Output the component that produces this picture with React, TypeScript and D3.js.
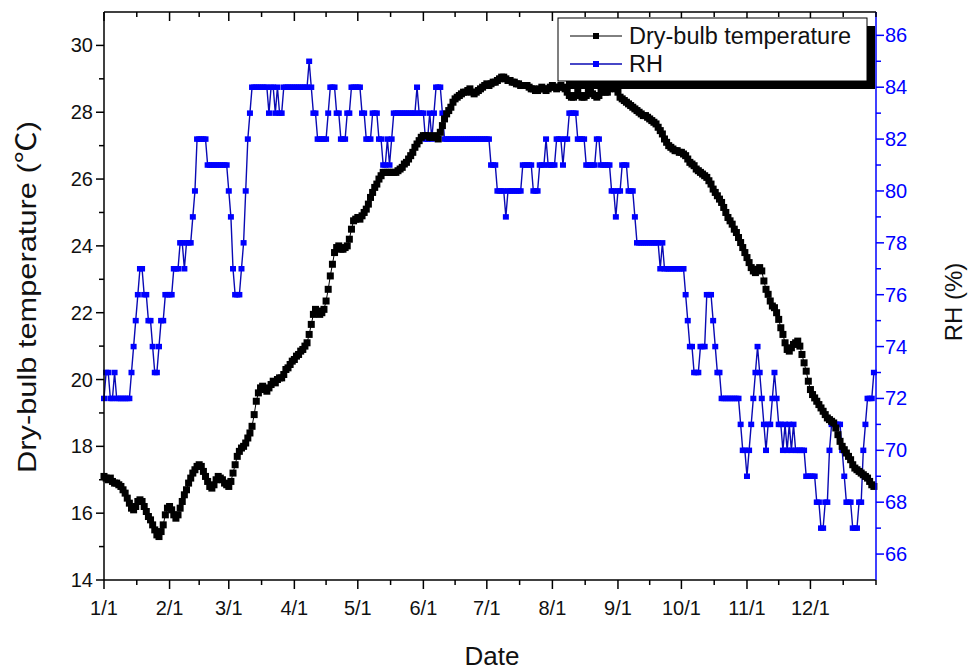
import React from 'react';
import * as d3 from 'd3';

// Daily dry-bulb temperature (°C), day 0 = 1/1
const temperature: number[] = [
  17.1,17.05,17.0,17.05,16.95,16.9,16.9,16.85,16.8,16.7,
  16.6,16.45,16.3,16.15,16.1,16.2,16.35,16.4,16.35,16.2,
  16.05,15.9,15.8,15.65,15.5,15.35,15.3,15.45,15.65,15.95,
  16.15,16.2,16.1,15.95,15.85,15.95,16.15,16.35,16.55,16.7,
  16.9,17.05,17.2,17.3,17.4,17.45,17.4,17.25,17.1,16.95,
  16.8,16.75,16.85,17.0,17.1,17.05,17.0,16.9,16.85,16.8,
  16.95,17.2,17.45,17.7,17.85,17.95,18.0,18.1,18.25,18.4,
  18.6,18.95,19.35,19.6,19.75,19.8,19.7,19.65,19.75,19.85,
  19.95,19.9,20.0,20.05,20.05,20.15,20.3,20.35,20.45,20.55,
  20.6,20.7,20.75,20.85,20.9,21.0,21.1,21.35,21.65,21.95,
  22.1,22.05,21.95,22.0,22.1,22.35,22.7,23.1,23.45,23.8,
  23.95,24.0,23.9,23.9,23.95,24.0,24.2,24.5,24.75,24.8,
  24.85,24.8,24.9,25.0,25.1,25.25,25.45,25.6,25.75,25.85,
  26.0,26.1,26.2,26.2,26.2,26.2,26.2,26.2,26.2,26.25,
  26.3,26.35,26.45,26.5,26.6,26.7,26.8,26.95,27.05,27.15,
  27.25,27.3,27.3,27.3,27.25,27.25,27.3,27.25,27.2,27.4,
  27.6,27.8,27.95,28.05,28.15,28.3,28.4,28.45,28.5,28.55,
  28.6,28.6,28.65,28.7,28.6,28.55,28.6,28.65,28.7,28.75,
  28.8,28.85,28.8,28.85,28.9,28.9,28.95,29.0,29.05,29.05,
  29.0,28.95,28.95,28.9,28.9,28.85,28.85,28.8,28.8,28.8,
  28.8,28.75,28.7,28.7,28.65,28.65,28.7,28.75,28.7,28.65,
  28.7,28.75,28.8,28.75,28.7,28.75,28.8,28.75,28.7,28.6,
  28.5,28.45,28.45,28.5,28.6,28.5,28.45,28.45,28.5,28.6,
  28.6,28.55,28.5,28.45,28.5,28.6,28.65,28.6,28.6,28.7,
  28.75,28.75,28.7,28.6,28.45,28.4,28.35,28.3,28.25,28.2,
  28.15,28.1,28.05,28.0,27.95,27.9,27.9,27.85,27.8,27.75,
  27.7,27.65,27.55,27.45,27.35,27.2,27.1,27.0,26.95,26.9,
  26.85,26.85,26.8,26.8,26.75,26.7,26.6,26.5,26.45,26.4,
  26.3,26.25,26.2,26.15,26.1,26.05,25.95,25.85,25.7,25.6,
  25.5,25.4,25.3,25.15,25.0,24.85,24.75,24.65,24.5,24.4,
  24.25,24.1,23.95,23.8,23.65,23.5,23.35,23.25,23.2,23.3,
  23.35,23.25,22.95,22.7,22.55,22.35,22.2,22.15,22.0,21.8,
  21.55,21.35,21.1,20.9,20.85,20.95,21.05,21.1,21.15,21.0,
  20.75,20.5,20.25,19.95,19.7,19.55,19.45,19.35,19.25,19.15,
  19.05,18.95,18.85,18.8,18.75,18.7,18.55,18.35,18.15,18.0,
  17.9,17.8,17.7,17.6,17.45,17.35,17.3,17.25,17.2,17.15,
  17.1,17.05,16.95,16.85,16.8,
];

// Daily relative humidity (%), day 0 = 1/1
const relativeHumidity: number[] = [
  72,73,73,72,72,73,72,72,72,72,72,72,72,
  73,74,75,76,77,77,76,76,75,75,74,73,73,
  74,75,75,76,76,76,76,77,77,77,78,78,77,78,78,78,79,80,
  82,82,82,82,82,81,81,81,81,81,81,81,81,81,81,
  80,79,77,76,76,76,77,78,80,82,83,84,
  84,84,84,84,84,84,84,83,84,84,83,84,83,83,84,
  84,84,84,84,84,84,84,84,84,84,84,85,84,83,83,
  82,82,82,82,82,83,84,84,84,83,83,82,82,82,83,
  83,84,84,84,84,84,83,83,82,82,82,83,83,83,82,
  82,81,81,82,81,82,83,83,83,83,83,83,83,83,83,
  83,83,84,83,83,83,82,82,83,82,83,84,84,84,83,
  82,82,82,82,82,82,82,82,82,82,82,82,82,82,82,82,82,82,82,82,82,82,
  81,81,81,80,80,80,80,79,80,80,80,80,80,80,80,
  81,81,81,81,81,80,80,80,
  81,81,81,82,81,81,81,81,82,82,82,81,82,82,83,
  83,83,83,82,82,82,82,81,81,81,81,81,82,82,81,
  81,81,81,81,80,80,79,80,80,81,81,81,80,80,80,
  79,78,78,78,78,78,78,78,78,78,78,78,77,78,77,
  77,77,77,77,77,77,77,77,77,76,75,74,74,73,73,
  73,74,74,74,76,76,76,75,74,73,73,72,72,72,72,
  72,72,72,72,72,71,70,70,69,70,71,72,73,74,73,
  72,71,70,71,71,72,73,72,71,71,70,71,70,71,70,
  71,70,70,70,70,70,69,69,69,69,69,68,68,67,67,
  68,68,70,71,71,71,71,71,70,69,68,68,68,67,67,
  67,68,68,70,71,72,72,72,73,
];

const monthStartDays = [0, 31, 59, 90, 120, 151, 181, 212, 243, 273, 304, 334];
const monthLabels = ['1/1', '2/1', '3/1', '4/1', '5/1', '6/1', '7/1', '8/1', '9/1', '10/1', '11/1', '12/1'];
const daysInYear = 365;
const tempTicks = [14, 16, 18, 20, 22, 24, 26, 28, 30];
const tempMinorTicks = [15, 17, 19, 21, 23, 25, 27, 29];
const rhTicks = [66, 68, 70, 72, 74, 76, 78, 80, 82, 84, 86];
const rhMinorTicks = [67, 69, 71, 73, 75, 77, 79, 81, 83, 85];
const seriesNames = ['Dry-bulb temperature', 'RH'];

const FONT = "'Liberation Sans', Arial, sans-serif";
const CJK = "'Noto Sans CJK SC', sans-serif";
const BLUE = '#0000ff';
const BLUE_LINE = '#0a0ab4';

export default function App() {
  const left = 104, right = 876, top = 12, bottom = 580;
  const x = d3.scaleLinear().domain([0, daysInYear]).range([left, right]);
  const yT = d3.scaleLinear().domain([14, 31]).range([bottom, top]);
  const yR = d3.scaleLinear().domain([65, 86.9]).range([bottom, top]);

  const minorDays = monthStartDays.map((d, i) => {
    const next = i < monthStartDays.length - 1 ? monthStartDays[i + 1] : daysInYear;
    return (d + next) / 2;
  }).concat([daysInYear]);

  const tLine = d3.line<number>().x((_, i) => x(i)).y(d => yT(d));
  const rLine = d3.line<number>().x((_, i) => x(i)).y(d => yR(d));

  const tms = 7;
  const rms = 6;

  return (
    <svg width={968} height={671} style={{ position: 'absolute', left: 0, top: 0, background: '#fff' }}
      fontFamily={FONT}>
      <rect x={0} y={0} width={968} height={671} fill="#fff" />

      {/* RH series */}
      <path d={rLine(relativeHumidity) || ''} fill="none" stroke={BLUE_LINE} strokeWidth={1.4} />
      {relativeHumidity.map((v, i) => (
        <rect key={'r' + i} x={x(i) - rms / 2} y={yR(v) - 2.75} width={rms} height={5.5} fill={BLUE} />
      ))}

      {/* Temperature series */}
      <path d={tLine(temperature) || ''} fill="none" stroke="#000" strokeWidth={1} />
      {temperature.map((v, i) => (
        <rect key={'t' + i} x={x(i) - tms / 2} y={yT(v) - tms / 2} width={tms} height={tms} fill="#000" />
      ))}

      {/* frame */}
      <line x1={left} x2={right} y1={top} y2={top} stroke="#000" strokeWidth={1.5} />
      <line x1={left} x2={right} y1={bottom} y2={bottom} stroke="#000" strokeWidth={1.5} />
      <line x1={left} x2={left} y1={top} y2={bottom} stroke="#000" strokeWidth={1.5} />
      <line x1={right} x2={right} y1={top} y2={bottom} stroke={BLUE} strokeWidth={1.5} />

      {/* bottom / top axis ticks */}
      {monthStartDays.map((d, i) => (
        <g key={'bx' + i}>
          <line x1={x(d)} x2={x(d)} y1={bottom} y2={bottom + 9} stroke="#000" strokeWidth={1.5} />
          <line x1={x(d)} x2={x(d)} y1={top} y2={top + 9} stroke="#000" strokeWidth={1.5} />
          <text x={x(d)} y={bottom + 35} fontSize={20} textAnchor="middle" fill="#111">{monthLabels[i]}</text>
        </g>
      ))}
      {minorDays.map((d, i) => (
        <g key={'bm' + i}>
          <line x1={x(d)} x2={x(d)} y1={bottom} y2={bottom + 5} stroke="#000" strokeWidth={1.5} />
          <line x1={x(d)} x2={x(d)} y1={top} y2={top + 5} stroke="#000" strokeWidth={1.5} />
        </g>
      ))}

      {/* left axis */}
      {tempTicks.map(t => (
        <g key={'lt' + t}>
          <line x1={left - 8} x2={left} y1={yT(t)} y2={yT(t)} stroke="#000" strokeWidth={1.5} />
          <text x={left - 11} y={yT(t) + 7} fontSize={20} textAnchor="end" fill="#111">{t}</text>
        </g>
      ))}
      {tempMinorTicks.map(t => (
        <line key={'lm' + t} x1={left - 5} x2={left} y1={yT(t)} y2={yT(t)} stroke="#000" strokeWidth={1.5} />
      ))}

      {/* right axis */}
      {rhTicks.map(t => (
        <g key={'rt' + t}>
          <line x1={right} x2={right + 8} y1={yR(t)} y2={yR(t)} stroke={BLUE} strokeWidth={1.5} />
          <text x={right + 9} y={yR(t) + 7} fontSize={20} textAnchor="start" fill={BLUE}>{t}</text>
        </g>
      ))}
      {rhMinorTicks.map(t => (
        <line key={'rm' + t} x1={right} x2={right + 5} y1={yR(t)} y2={yR(t)} stroke={BLUE} strokeWidth={1.5} />
      ))}

      {/* axis titles */}
      <text x={492} y={665} fontSize={26} textAnchor="middle" fill="#111">Date</text>
      <text transform={`translate(36,297) rotate(-90)`} fontSize={26} textAnchor="middle" fill="#111"
        textLength={352} lengthAdjust="spacingAndGlyphs">
        Dry-bulb temperature (<tspan fontFamily={CJK} fontSize={27}>℃</tspan>)
      </text>
      <text transform={`translate(962,302) rotate(-90)`} fontSize={24} textAnchor="middle" fill="#111">
        RH (%)
      </text>

      {/* legend */}
      <rect x={566} y={26} width={309} height={63} fill="#000" />
      <rect x={558} y={18} width={309} height={63} fill="#fff" stroke="#000" strokeWidth={1} />
      <line x1={570} x2={622} y1={36} y2={36} stroke="#000" strokeWidth={1} />
      <rect x={596 - 3} y={36 - 3} width={6} height={6} fill="#000" />
      <text x={629} y={44} fontSize={23.5} fill="#111">{seriesNames[0]}</text>
      <line x1={570} x2={622} y1={64} y2={64} stroke={BLUE_LINE} strokeWidth={1.4} />
      <rect x={596 - 3} y={64 - 3} width={6} height={6} fill={BLUE} />
      <text x={629} y={72} fontSize={23.5} fill="#111">{seriesNames[1]}</text>
    </svg>
  );
}
